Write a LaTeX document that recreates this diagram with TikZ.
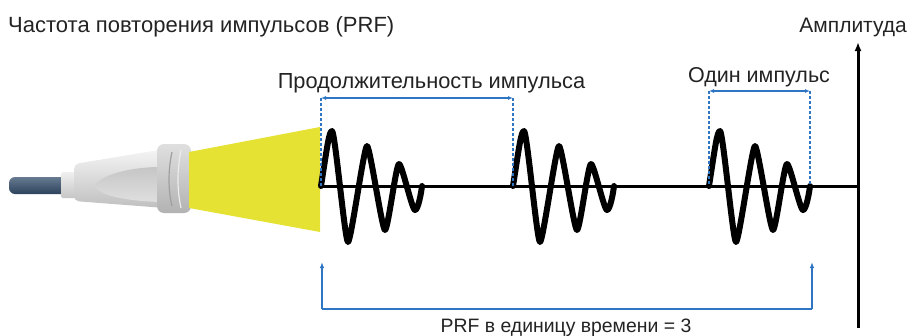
\documentclass[tikz,border=0pt]{standalone}
\usepackage{fontspec}
\setmainfont{Liberation Sans}
\usetikzlibrary{arrows.meta}
\definecolor{beam}{RGB}{229,226,52}
\definecolor{lineblue}{RGB}{46,117,196}
\definecolor{cable}{RGB}{52,78,108}
\definecolor{txt}{RGB}{35,35,35}
\tikzset{
  label/.style={text=txt, inner sep=0pt},
  wave/.style={line width=6pt, line cap=round, line join=round},
  guide/.style={draw=lineblue, line width=1.1pt, dash pattern=on 3pt off 2pt},
  span/.style={draw=lineblue, line width=1.4pt, {Latex[length=5pt,width=4pt]}-{Latex[length=5pt,width=4pt]}},
  bracket/.style={draw=lineblue, line width=1.4pt, -{Latex[length=6pt,width=4.5pt]}},
  axis/.style={draw=black, line width=3pt},
}
% one echo burst starting at the given point: a damped oscillation
% with rounded tips that settles back onto the baseline
\newcommand{\burst}[1]{%
  \begin{scope}[shift={(#1)}]
  \draw[wave] (0,0) .. controls (6,-38) and (8,-55) .. (11,-55)
    .. controls (14,-55) and (24,56) .. (27,56)
    .. controls (30,56) and (43,-40) .. (46,-40)
    .. controls (49,-40) and (61,44) .. (64,44)
    .. controls (67,44) and (75,-22) .. (78,-22)
    .. controls (81,-22) and (91,24) .. (94,24)
    .. controls (97,24) and (100,8) .. (101,0);
  \end{scope}}
\begin{document}
\begin{tikzpicture}[x=1pt,y=-1pt]
\useasboundingbox (0,0) rectangle (909,335);

% ---- transducer ----
\shade[top color=cable!75!white, bottom color=cable!85!black, rounded corners=6pt]
  (9,177) rectangle (68,194);
\shade[top color=gray!12, bottom color=gray!45, rounded corners=2pt]
  (61,172) rectangle (78,198);
\shade[top color=gray!8, bottom color=gray!50, rounded corners=5pt]
  (74,164) -- (165,149) -- (165,208) -- (74,201) -- cycle;
\shade[top color=gray!45, bottom color=gray!25]
  (94,186) .. controls (104,172) and (138,167) .. (160,167) -- (160,202)
  .. controls (138,201) and (104,199) .. (94,186) -- cycle;
\shade[top color=gray!25, bottom color=gray!60, rounded corners=7pt]
  (157,144) rectangle (191,213);
\draw[gray!75, line width=1.2pt] (172,152) .. controls (168,170) and (168,190) .. (172,206);
\draw[white!85!gray, line width=1.2pt] (181,150) .. controls (177,170) and (177,190) .. (181,208);

% ---- ultrasound beam ----
\fill[beam] (189,152) -- (320,127) -- (320,232) -- (189,208) -- cycle;

% ---- reference points ----
\coordinate (p1) at (321,186);
\coordinate (p2) at (513,186);
\coordinate (p3) at (709,186);
\coordinate (p3e) at (810,186);
\coordinate (axb) at (858,328);
\coordinate (axt) at (858,42);
\coordinate (d1) at (321,98);
\coordinate (d2) at (513,98);
\coordinate (o1) at (709,91);
\coordinate (o2) at (810,91);
\coordinate (b1) at (322,262);
\coordinate (b2) at (812,262);
\coordinate (b1l) at (322,309);
\coordinate (b2l) at (812,309);

% ---- time axis and amplitude axis ----
\draw[axis] (p1) -- (858,186);
\draw[axis, -{Latex[length=9pt,width=7pt]}] (axb) -- (axt);

% ---- echo bursts ----
\burst{p1}
\burst{p2}
\burst{p3}

% ---- pulse duration span ----
\draw[guide] (d1) -- (p1);
\draw[guide] (d2) -- (p2);
\draw[span] (d1) -- (d2);

% ---- single pulse span ----
\draw[guide] (o1) -- (p3);
\draw[guide] (o2) -- (p3e);
\draw[span] (o1) -- (o2);

% ---- PRF bracket ----
\draw[draw=lineblue, line width=1.4pt] (b1l) -- (b2l);
\draw[bracket] (b1l) -- (b1);
\draw[bracket] (b2l) -- (b2);

% ---- labels ----
\node[label, anchor=base west, font=\fontsize{22}{24}\selectfont] (prf) at (8,32.5) {Частота повторения импульсов (PRF)};
\node[label, anchor=base east, font=\fontsize{21}{24}\selectfont] (amp) at (907,32.5) {Амплитуда};
\node[label, anchor=base, font=\fontsize{21.8}{24}\selectfont] (dur) at (431.5,88) {Продолжительность импульса};
\node[label, anchor=base, font=\fontsize{21.5}{24}\selectfont] (one) at (759,82) {Один импульс};
\node[label, anchor=base, font=\fontsize{19.4}{24}\selectfont] (cnt) at (566,332) {PRF в единицу времени = 3};
\end{tikzpicture}
\end{document}
